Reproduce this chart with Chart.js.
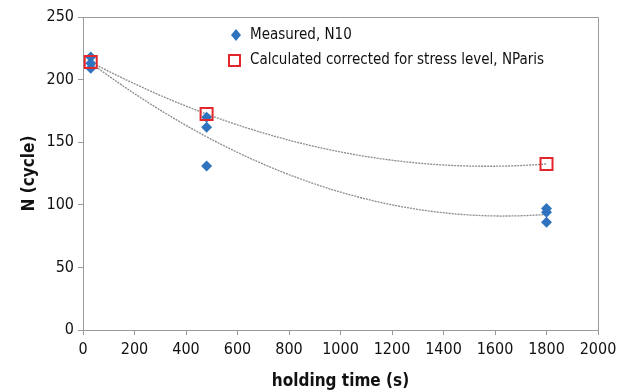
<!DOCTYPE html>
<html>
<head>
<meta charset="UTF-8">
<script src="https://cdn.jsdelivr.net/npm/chart.js@4"></script>
<style>
html, body { margin: 0; padding: 0; background: #fff; }
#wrap { width: 628px; height: 392px; }
</style>
</head>
<body>
<div id="wrap"><canvas id="c" width="628" height="392"></canvas></div>
<script>
// holding time (s) and cycles
const measuredX = [30, 30, 30, 480, 480, 480, 1800, 1800, 1800];
const measuredY = [218, 213, 209, 170, 162, 131, 97, 94, 86];
const parisX = [30, 480, 1800];
const parisY = [214, 172.5, 132.6];
const xTicks = [0, 200, 400, 600, 800, 1000, 1200, 1400, 1600, 1800, 2000];
const yTicks = [0, 50, 100, 150, 200, 250];

const FONT = '"Liberation Sans Narrow", "DejaVu Sans Condensed", sans-serif';

// 2nd order polynomial trendline (least squares), like the spreadsheet one
function polyFit2(xs, ys) {
  let s = [0, 0, 0, 0, 0], t = [0, 0, 0];
  for (let i = 0; i < xs.length; i++) {
    let p = 1;
    for (let k = 0; k < 5; k++) { s[k] += p; if (k < 3) t[k] += p * ys[i]; p *= xs[i]; }
  }
  const A = [[s[0], s[1], s[2], t[0]], [s[1], s[2], s[3], t[1]], [s[2], s[3], s[4], t[2]]];
  for (let i = 0; i < 3; i++) {
    for (let j = i + 1; j < 3; j++) {
      const f = A[j][i] / A[i][i];
      for (let k = i; k < 4; k++) A[j][k] -= f * A[i][k];
    }
  }
  const c = [0, 0, 0];
  for (let i = 2; i >= 0; i--) {
    let v = A[i][3];
    for (let k = i + 1; k < 3; k++) v -= A[i][k] * c[k];
    c[i] = v / A[i][i];
  }
  return x => c[0] + c[1] * x + c[2] * x * x;
}

function trend(xs, ys) {
  const f = polyFit2(xs, ys);
  const lo = Math.min(...xs), hi = Math.max(...xs);
  const out = [];
  for (let i = 0; i <= 60; i++) {
    const x = lo + (hi - lo) * i / 60;
    out.push({ x: x, y: f(x) });
  }
  return out;
}

const toPts = (xs, ys) => xs.map((x, i) => ({ x: x, y: ys[i] }));

const frame = {
  id: 'frame',
  afterDraw(chart) {
    const { ctx, chartArea: a } = chart;
    ctx.save();
    ctx.strokeStyle = '#9a9a9a';
    ctx.lineWidth = 1;
    ctx.beginPath();
    ctx.moveTo(a.left, a.top + 0.5);
    ctx.lineTo(a.right + 0.5, a.top + 0.5);
    ctx.lineTo(a.right + 0.5, a.bottom);
    ctx.stroke();

    // legend inside plot
    ctx.font = '15px ' + FONT;
    ctx.textBaseline = 'middle';
    ctx.fillStyle = '#2f73bf';
    ctx.beginPath();
    ctx.moveTo(236, 29); ctx.lineTo(241, 35); ctx.lineTo(236, 41); ctx.lineTo(231, 35);
    ctx.closePath(); ctx.fill();
    ctx.fillStyle = '#111';
    ctx.fillText('Measured, N10', 250, 35);
    ctx.strokeStyle = '#e3262b';
    ctx.lineWidth = 2;
    ctx.strokeRect(229, 55, 11, 11);
    ctx.fillText('Calculated corrected for stress level, NParis', 250, 60);
    ctx.restore();
  }
};

new Chart(document.getElementById('c'), {
  type: 'scatter',
  data: {
    datasets: [
      {
        label: 'trend measured',
        data: trend(measuredX, measuredY),
        showLine: true, pointRadius: 0, borderColor: '#8c8c8c',
        borderWidth: 1.3, borderDash: [2, 1], order: 3
      },
      {
        label: 'trend Paris',
        data: trend(parisX, parisY),
        showLine: true, pointRadius: 0, borderColor: '#8c8c8c',
        borderWidth: 1.3, borderDash: [2, 1], order: 3
      },
      {
        label: 'Measured, N10',
        data: toPts(measuredX, measuredY),
        pointStyle: 'rectRot', pointRadius: 5.5,
        backgroundColor: '#2f73bf', borderColor: '#2f73bf', borderWidth: 0, order: 2
      },
      {
        label: 'Calculated corrected for stress level, NParis',
        data: toPts(parisX, parisY),
        pointStyle: 'rect', pointRadius: 8.5,
        backgroundColor: 'rgba(255,255,255,0)', borderColor: '#e3262b', borderWidth: 2, order: 1
      }
    ]
  },
  options: {
    responsive: false,
    animation: false,
    layout: { padding: { left: 19, right: 30, top: 17, bottom: 0 } },
    plugins: { legend: { display: false }, tooltip: { enabled: false } },
    scales: {
      x: {
        type: 'linear', min: 0, max: 2000,
        afterBuildTicks: s => { s.ticks = xTicks.map(v => ({ value: v })); },
        grid: { drawOnChartArea: false, drawTicks: true, tickLength: 5, color: '#9a9a9a' },
        border: { color: '#9a9a9a' },
        ticks: { color: '#111', font: { family: FONT, size: 16 }, padding: 5, maxRotation: 0,
                 callback: v => String(v) },
        title: { display: true, text: 'holding time (s)', color: '#111',
                 font: { family: FONT, size: 17, weight: 'bold' }, padding: { top: 1, bottom: 0 } },
        afterFit: s => { s.height = 62; }
      },
      y: {
        type: 'linear', min: 0, max: 250,
        afterBuildTicks: s => { s.ticks = yTicks.map(v => ({ value: v })); },
        grid: { drawOnChartArea: false, drawTicks: true, tickLength: 5, color: '#9a9a9a' },
        border: { color: '#9a9a9a' },
        ticks: { color: '#111', font: { family: FONT, size: 16 }, padding: 4,
                 callback: v => String(v) },
        title: { display: true, text: 'N (cycle)', color: '#111',
                 font: { family: FONT, size: 17, weight: 'bold' }, padding: { top: 0, bottom: 0 } },
        afterFit: s => { s.width = 64; }
      }
    }
  },
  plugins: [frame]
});
</script>
</body>
</html>
